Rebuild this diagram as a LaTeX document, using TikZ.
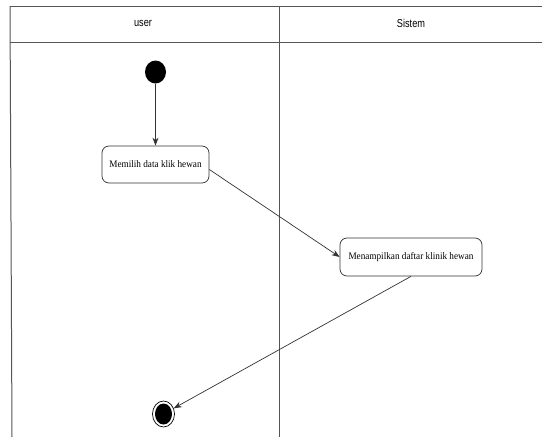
\documentclass[tikz,border=0pt]{standalone}
\usepackage{fontspec}
\setmainfont{Liberation Serif}
\newfontfamily\headfont{Liberation Sans}[FakeStretch=0.8]
\newfontfamily\actfont{Liberation Serif}[FakeStretch=0.92]
\usetikzlibrary{arrows.meta,shapes.geometric,calc}
\definecolor{lane}{HTML}{555555}
\definecolor{edge}{HTML}{333333}
\tikzset{
  act/.style={draw=edge, rounded corners=7pt, fill=white, line width=0.7pt, inner sep=0pt, font=\actfont\fontsize{10}{12}\selectfont},
  flow/.style={draw=edge, line width=0.7pt, -{Stealth[length=8pt,width=6pt]}},
  lanel/.style={draw=lane, line width=1pt},
  headl/.style={font=\headfont\fontsize{11.5}{13}\selectfont},
}
\begin{document}
\begin{tikzpicture}[x=1pt,y=-1pt]
\useasboundingbox (0,0) rectangle (542,437);
\fill[white] (0,0) rectangle (542,437);
% swimlanes
\draw[lanel] (10,6) -- (542,6);
\draw[lanel] (10,42) -- (542,42);
\draw[lanel] (10,6) -- (12,437);
\draw[lanel] (279,6) -- (279,437);
\node[headl] (h1) at (143,23) {user};
\node[headl] (h2) at (411,23) {Sistem};
% nodes
\node[fill=black, ellipse, minimum width=21pt, minimum height=23pt, inner sep=0pt] (start) at (155.5,72) {};
\node[act, minimum width=107pt, minimum height=37pt] (a1) at (155.5,164.5) {Memilih data klik hewan};
\node[act, minimum width=142pt, minimum height=38pt] (a2) at (411,257) {Menampilkan daftar klinik hewan};
\node[draw=black, line width=0.7pt, ellipse, minimum width=22pt, minimum height=26pt, inner sep=0pt] (end) at (163.5,414) {};
\fill[black] (end.center) ellipse (8.5pt and 10.5pt);
% flows
\draw[flow] (start) -- (a1);
\draw[flow] ($(a1.east)+(0,5)$) -- (a2.west);
\draw[flow] (a2.south) -- (end);
\end{tikzpicture}
\end{document}
